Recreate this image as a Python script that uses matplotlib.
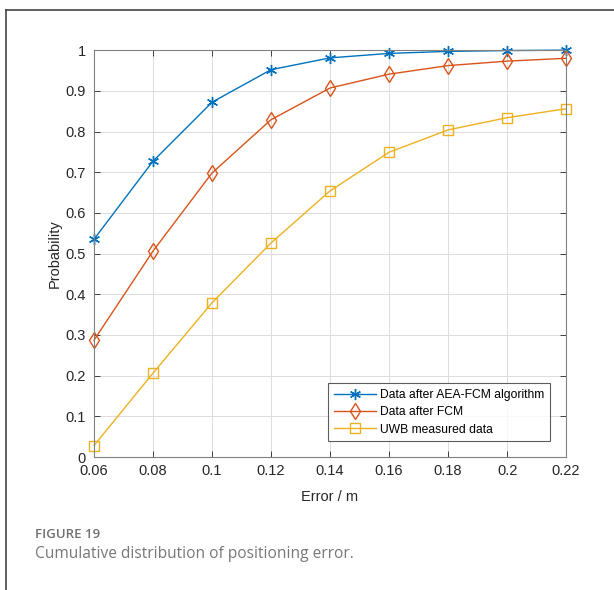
import matplotlib.pyplot as plt
from matplotlib.lines import Line2D

plt.rcParams['font.family'] = ['Liberation Sans', 'DejaVu Sans']

# Positioning error thresholds (m) and cumulative probabilities
error_m = [0.06, 0.08, 0.10, 0.12, 0.14, 0.16, 0.18, 0.20, 0.22]
aea_fcm = [0.535, 0.727, 0.872, 0.952, 0.981, 0.992, 0.997, 0.999, 1.0]
fcm = [0.287, 0.506, 0.698, 0.829, 0.907, 0.941, 0.962, 0.973, 0.980]
uwb_raw = [0.028, 0.206, 0.379, 0.526, 0.654, 0.749, 0.804, 0.834, 0.856]

x_ticks = [0.06, 0.08, 0.1, 0.12, 0.14, 0.16, 0.18, 0.2, 0.22]
x_tick_labels = ['0.06', '0.08', '0.1', '0.12', '0.14', '0.16', '0.18', '0.2', '0.22']
y_ticks = [0, 0.1, 0.2, 0.3, 0.4, 0.5, 0.6, 0.7, 0.8, 0.9, 1]
y_tick_labels = ['0', '0.1', '0.2', '0.3', '0.4', '0.5', '0.6', '0.7', '0.8', '0.9', '1']

fig = plt.figure(figsize=(6.14, 5.90), dpi=100)
ax = fig.add_axes([0.153, 0.2254, 0.769, 0.6896])

# asterisk marker: 6 arms, like the MATLAB '*'
ax.plot(error_m, aea_fcm, color='#0072BD', marker=(6, 2, 0), markersize=8,
        markeredgewidth=1, linewidth=1, label='Data after AEA-FCM algorithm',
        clip_on=False)
ax.plot(error_m, fcm, color='#D95319', marker='d', markersize=8,
        markerfacecolor='none', markeredgewidth=1, linewidth=1,
        label='Data after FCM', clip_on=False)
ax.plot(error_m, uwb_raw, color='#EDB120', marker='s', markersize=6.5,
        markerfacecolor='none', markeredgewidth=1, linewidth=1,
        label='UWB measured data', clip_on=False)

ax.set_xlim(0.06, 0.22)
ax.set_ylim(0, 1)
ax.set_xticks(x_ticks)
ax.set_xticklabels(x_tick_labels)
ax.set_yticks(y_ticks)
ax.set_yticklabels(y_tick_labels)
ax.tick_params(direction='in', top=True, right=True, labelsize=10.5,
               colors='#262626', length=4, width=0.6)
ax.tick_params(axis='x', pad=5)
ax.tick_params(axis='y', pad=6)
for sp in ax.spines.values():
    sp.set_color('#808080')
    sp.set_linewidth(0.8)
ax.grid(True, color='#dcdcdc', linewidth=0.7)
ax.set_axisbelow(True)

ax.set_xlabel('Error / m', fontsize=10.5, color='#262626', labelpad=9)
ax.set_ylabel('Probability', fontsize=10.5, color='#262626', labelpad=2.5)

leg = ax.legend(loc='lower right', bbox_to_anchor=(0.966, 0.039), fontsize=8.7,
                frameon=True, fancybox=False, edgecolor='#333333',
                handlelength=3.5, handletextpad=0.35, borderpad=0.45,
                labelspacing=0.45, borderaxespad=0)
leg.get_frame().set_linewidth(0.8)

# Page frame around the figure panel
fig.add_artist(Line2D([6 / 614, 1.0], [1 - 10 / 590, 1 - 10 / 590],
                      color='#444444', linewidth=1.2))
fig.add_artist(Line2D([6 / 614, 6 / 614], [0, 1 - 10 / 590],
                      color='#444444', linewidth=1.2))

# Caption
fig.text(35 / 614, 1 - 535 / 590, 'FIGURE 19', fontsize=9.5, color='#707070',
         family=['Open Sans', 'DejaVu Sans'], fontweight='semibold', va='center')
fig.text(35 / 614, 1 - 554 / 590, 'Cumulative distribution of positioning error.',
         fontsize=11.2, color='#777777', family=['Open Sans', 'DejaVu Sans'],
         va='center')

fig.savefig('out.png', dpi=100)
